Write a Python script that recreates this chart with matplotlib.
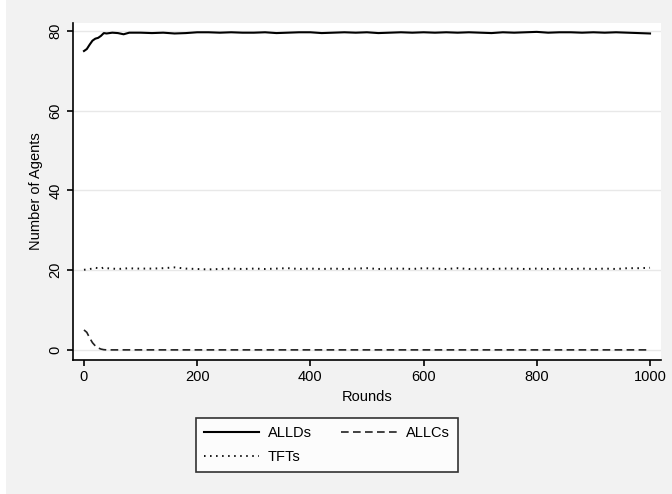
import matplotlib
matplotlib.use("Agg")
import matplotlib.pyplot as plt
from matplotlib.patches import Rectangle

plt.rcParams["font.family"] = ["Liberation Sans", "DejaVu Sans"]

# ---- data ----
alld_rounds = [0, 5, 10, 15, 20, 25, 30, 35, 40, 50, 60, 70, 80, 90,
               100, 120, 140, 160, 180, 200, 220, 240, 260, 280, 300,
               320, 340, 360, 380, 400, 420, 440, 460, 480, 500, 520,
               540, 560, 580, 600, 620, 640, 660, 680, 700, 720, 740,
               760, 780, 800, 820, 840, 860, 880, 900, 920, 940, 960,
               980, 1000]
alld_vals = [75.0, 75.5, 76.6, 77.6, 78.1, 78.3, 78.8, 79.5, 79.4, 79.6,
             79.5, 79.2, 79.6, 79.6, 79.6, 79.5, 79.6, 79.4, 79.5, 79.7,
             79.7, 79.6, 79.7, 79.6, 79.6, 79.7, 79.5, 79.6, 79.7, 79.7,
             79.5, 79.6, 79.7, 79.6, 79.7, 79.5, 79.6, 79.7, 79.6, 79.7,
             79.6, 79.7, 79.6, 79.7, 79.6, 79.5, 79.7, 79.6, 79.7, 79.8,
             79.6, 79.7, 79.7, 79.6, 79.7, 79.6, 79.7, 79.6, 79.5, 79.4]

tft_rounds = alld_rounds
tft_vals = [20.1, 20.2, 20.3, 20.4, 20.6, 20.5, 20.4, 20.7, 20.5, 20.4,
            20.3, 20.4, 20.5, 20.4, 20.4, 20.4, 20.5, 20.7, 20.4, 20.3,
            20.2, 20.3, 20.4, 20.3, 20.4, 20.3, 20.4, 20.5, 20.3, 20.4,
            20.3, 20.4, 20.3, 20.4, 20.5, 20.3, 20.4, 20.4, 20.3, 20.5,
            20.4, 20.3, 20.5, 20.3, 20.4, 20.3, 20.4, 20.4, 20.3, 20.4,
            20.3, 20.4, 20.3, 20.4, 20.3, 20.4, 20.3, 20.5, 20.5, 20.6]

allc_rounds = [0, 5, 10, 15, 20, 25, 30, 35, 40, 1000]
allc_vals = [5.0, 4.4, 3.0, 1.8, 1.0, 0.5, 0.2, 0.05, 0.0, 0.0]

series_labels = ["ALLDs", "ALLCs", "TFTs"]
y_ticks = [0, 20, 40, 60, 80]
x_ticks = [0, 200, 400, 600, 800, 1000]

BG = "#f2f2f2"
FS = 10.5

fig = plt.figure(figsize=(6.72, 4.94), dpi=100)
fig.patch.set_facecolor(BG)
fig.patches.append(Rectangle((0, 0), 6 / 672, 1, transform=fig.transFigure,
                             fc="white", ec="none", zorder=0))

ax = fig.add_axes([73 / 672, 1 - 360 / 494, (661 - 73) / 672, (360 - 23) / 494])
ax.set_facecolor("white")

l1, = ax.plot(alld_rounds, alld_vals, color="black", lw=1.5,
              label=series_labels[0])
l2, = ax.plot(allc_rounds, allc_vals, color="#222222", lw=1.2,
              linestyle=(0, (4.6, 2.6)), label=series_labels[1])
l3, = ax.plot(tft_rounds, tft_vals, color="#111111", lw=1.4,
              linestyle=(0, (0.8, 2.3)), label=series_labels[2])

# axis limits chosen so 0 -> px 84, 1000 -> px 650; 0 -> px 350, 80 -> px 35
ax.set_xlim(-19.4, 1019.4)
ax.set_ylim(-2.54, 82.03)

ax.set_xticks(x_ticks)
ax.set_yticks(y_ticks)
ax.set_yticklabels([str(t) for t in y_ticks], rotation=90, va="center")
ax.tick_params(axis="both", direction="out", length=4.5, width=1.2,
               labelsize=FS, colors="black", pad=3)
ax.yaxis.grid(True, color="#e8e8e8", lw=1.0)
ax.set_axisbelow(True)

for s in ["top", "right"]:
    ax.spines[s].set_visible(False)
for s in ["left", "bottom"]:
    ax.spines[s].set_linewidth(1.2)

ax.set_xlabel("Rounds", fontsize=FS, labelpad=4)
ax.set_ylabel("Number of Agents", fontsize=FS, labelpad=4)

# row-major order in the reference: ALLDs, ALLCs / TFTs
leg = fig.legend(handles=[l1, l3, l2],
                 labels=[series_labels[0], series_labels[2], series_labels[1]],
                 ncol=2, loc="center",
                 bbox_to_anchor=(326.5 / 672, 1 - 445 / 494),
                 frameon=True, fancybox=False, edgecolor="black",
                 fontsize=FS, handlelength=3.8, columnspacing=2.0,
                 handletextpad=0.62, borderpad=0.55, labelspacing=0.65)
leg.get_frame().set_linewidth(1.2)

fig.savefig("out.png", dpi=100, facecolor=BG)
